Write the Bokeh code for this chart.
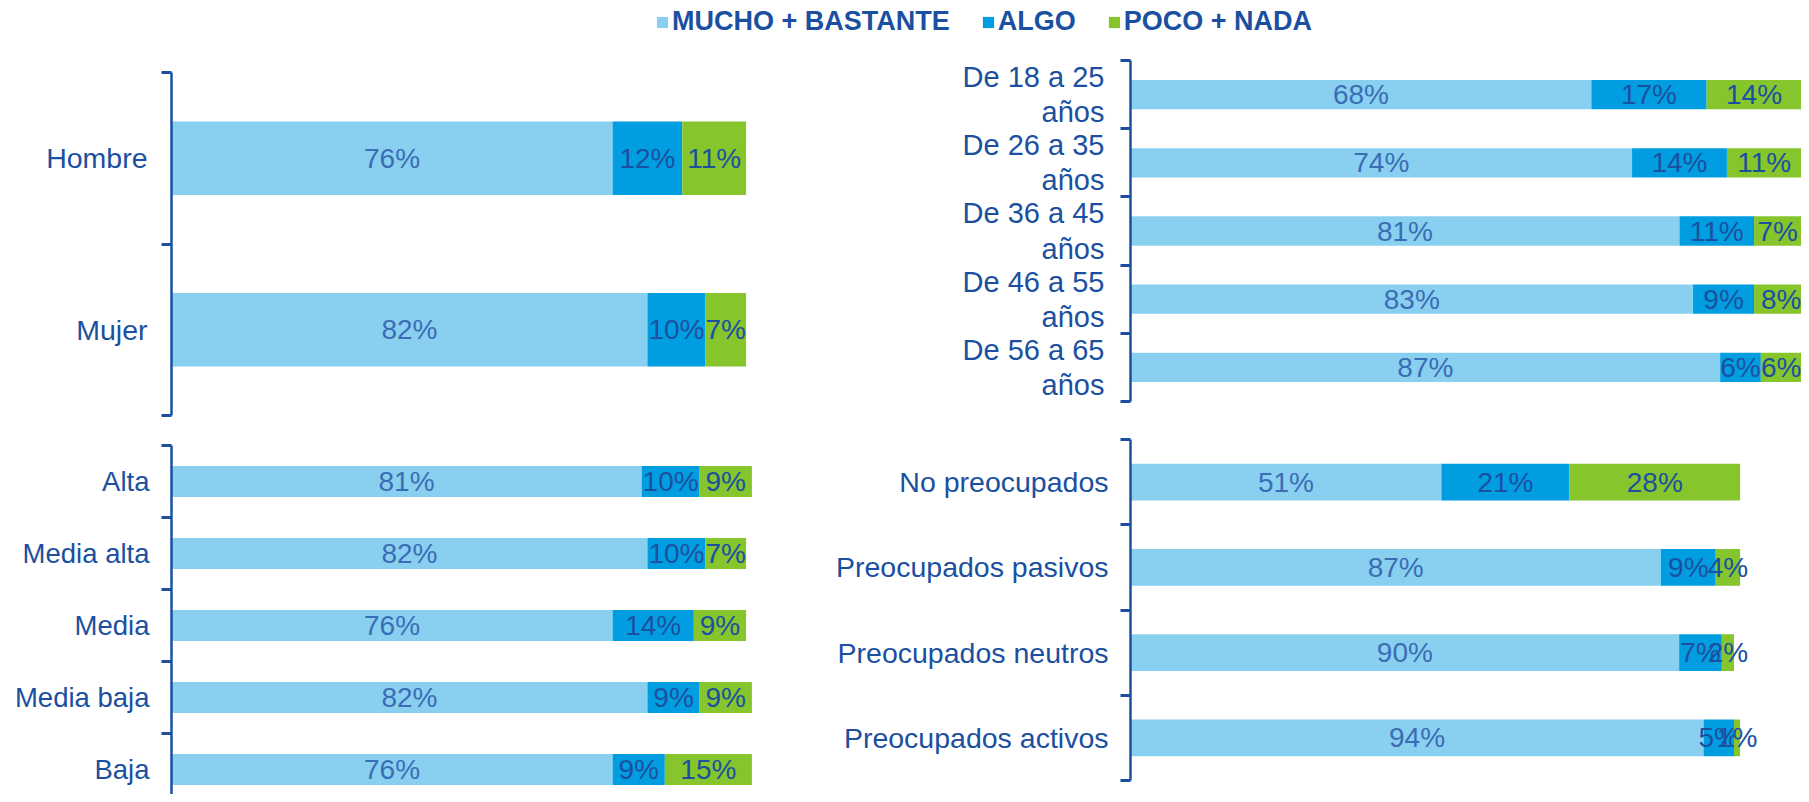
from bokeh.plotting import figure
from bokeh.models import ColumnDataSource, Range1d, FixedTicker, Legend, LegendItem
from bokeh.layouts import column, row
from bokeh.core.properties import value
from bokeh.embed import file_html
from bokeh.resources import INLINE

# ---------------- data ----------------
series_names = ["MUCHO + BASTANTE", "ALGO", "POCO + NADA"]
colors = ["#89D0F0", "#009EE0", "#86C52C"]

sexo_cats = ["Hombre", "Mujer"]
sexo_mucho = [76, 82]
sexo_algo = [12, 10]
sexo_poco = [11, 7]

edad_cats = ["De 18 a 25\naños", "De 26 a 35\naños", "De 36 a 45\naños",
             "De 46 a 55\naños", "De 56 a 65\naños"]
edad_mucho = [68, 74, 81, 83, 87]
edad_algo = [17, 14, 11, 9, 6]
edad_poco = [14, 11, 7, 8, 6]

clase_cats = ["Alta", "Media alta", "Media", "Media baja", "Baja"]
clase_mucho = [81, 82, 76, 82, 76]
clase_algo = [10, 10, 14, 9, 9]
clase_poco = [9, 7, 9, 9, 15]

preoc_cats = ["No preocupados", "Preocupados pasivos", "Preocupados neutros",
              "Preocupados activos"]
preoc_mucho = [51, 87, 90, 94]
preoc_algo = [21, 9, 7, 5]
preoc_poco = [28, 4, 2, 1]

# ---------------- styling ----------------
DARK = "#1B50A0"
VAL_COLORS = ["#3A6DB5", DARK, DARK]
FONT = "Liberation Sans"


def panel(cats, vals, fw, fh, xmax, ybottom, bl, br, bt, bb, label_px, standoff,
          align=None, line_height=None):
    n = len(cats)
    p = figure(frame_width=fw, frame_height=fh,
               x_range=Range1d(0, xmax), y_range=Range1d(ybottom, -0.5),
               x_axis_location=None, output_backend="svg", toolbar_location=None,
               min_border_left=bl, min_border_right=br,
               min_border_top=bt, min_border_bottom=bb)
    p.grid.visible = False
    p.outline_line_color = None
    ys = list(range(n))
    left = [0] * n
    for k, v in enumerate(vals):
        right = [l + x for l, x in zip(left, v)]
        mid = [(l + r) / 2 for l, r in zip(left, right)]
        src = ColumnDataSource(dict(y=ys, left=left, right=right, mid=mid,
                                    txt=[f"{x}%" for x in v]))
        p.hbar(y="y", left="left", right="right", height=0.43,
               fill_color=colors[k], line_color=None, source=src)
        p.text(x="mid", y="y", text="txt", source=src,
               text_align="center", text_baseline="middle",
               text_font=value(FONT), text_font_size=value("28px"),
               text_color=VAL_COLORS[k])
        left = right
    ax = p.yaxis[0]
    ax.ticker = FixedTicker(ticks=ys, minor_ticks=[i - 0.5 for i in range(n + 1)])
    ax.major_label_overrides = {i: c for i, c in enumerate(cats)}
    ax.axis_line_color = DARK
    ax.axis_line_width = 2.5
    ax.major_tick_line_color = None
    ax.major_tick_out = 0
    ax.major_tick_in = 0
    ax.minor_tick_line_color = DARK
    ax.minor_tick_line_width = 3
    ax.minor_tick_out = 10
    ax.minor_tick_in = 0
    ax.major_label_standoff = standoff
    ax.major_label_text_font = FONT
    ax.major_label_text_font_size = f"{label_px}px"
    ax.major_label_text_color = DARK
    if align is not None:
        ax.major_label_text_align = align
    if line_height is not None:
        ax.major_label_text_line_height = line_height
    return p


p1 = panel(sexo_cats, [sexo_mucho, sexo_algo, sexo_poco],
           fw=592, fh=343, xmax=102, ybottom=1.5,
           bl=171, br=17, bt=19, bb=15, label_px=28.5, standoff=14)
p3 = panel(clase_cats, [clase_mucho, clase_algo, clase_poco],
           fw=592, fh=349, xmax=102, ybottom=4.347,
           bl=171, br=17, bt=15, bb=0, label_px=27.5, standoff=12)
p2 = panel(edad_cats, [edad_mucho, edad_algo, edad_poco],
           fw=671, fh=341, xmax=99, ybottom=4.5,
           bl=350, br=0, bt=7, bb=19, label_px=29, standoff=16, align="center",
           line_height=1.1)
p4 = panel(preoc_cats, [preoc_mucho, preoc_algo, preoc_poco],
           fw=634, fh=341, xmax=104, ybottom=3.5,
           bl=350, br=5, bt=19, bb=6, label_px=28.5, standoff=12)

# ---------------- legend strip ----------------
leg = figure(frame_width=1790, frame_height=53,
             x_range=Range1d(0, 1), y_range=Range1d(0, 1),
             x_axis_location=None, y_axis_location=None,
             output_backend="svg", toolbar_location=None, min_border=0)
leg.grid.visible = False
leg.outline_line_color = None
items = []
for name, col in zip(series_names, colors):
    # zero-width proxy bar: only its legend swatch is visible
    r = leg.hbar(y=[0], left=[0], right=[0], height=0.5, fill_color=col, line_color=None)
    items.append(LegendItem(label=name, renderers=[r]))
lg = Legend(items=items, orientation="horizontal", location=(655, 16),
            glyph_width=14, glyph_height=14, label_standoff=3, spacing=31,
            label_height=30,
            padding=0, margin=0, border_line_color=None,
            background_fill_alpha=0,
            label_text_font=FONT, label_text_font_size="27px",
            label_text_font_style="bold", label_text_color=DARK)
leg.add_layout(lg)

layout = column(leg, row(column(p1, p3), column(p2, p4)))

open("out.html", "w").write(file_html(layout, INLINE))
